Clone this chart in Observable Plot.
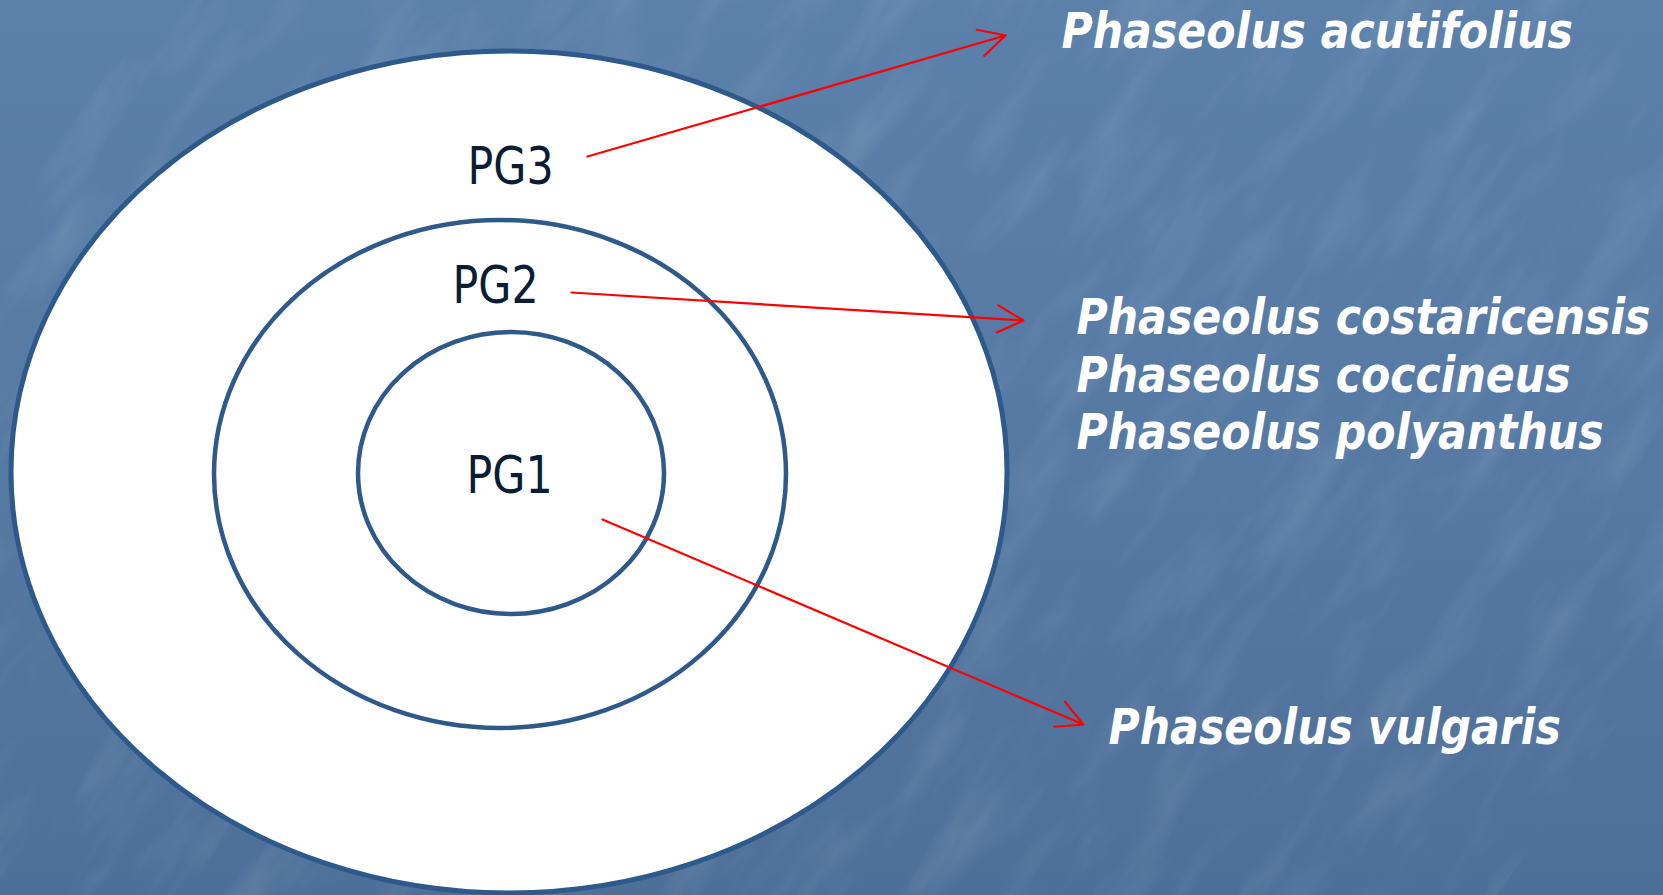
<!DOCTYPE html>
<html>
<head>
<meta charset="utf-8">
<script src="https://cdn.jsdelivr.net/npm/d3@7"></script>
<script src="https://cdn.jsdelivr.net/npm/@observablehq/plot@0.6"></script>
<style>
  html, body { margin: 0; padding: 0; }
  body {
    width: 1663px; height: 895px; overflow: hidden;
    background: linear-gradient(180deg, #5b80aa 0%, #5679a3 55%, #4d6f98 100%);
    position: relative;
  }
  #texture { position: absolute; left: 0; top: 0; width: 1663px; height: 895px; }
  #chart { position: absolute; left: 0; top: 0; }
  #chart svg { display: block; background: transparent; }
</style>
</head>
<body>
<svg id="texture" width="1663" height="895">
  <filter id="grain" x="0" y="0" width="100%" height="100%">
    <feTurbulence type="fractalNoise" baseFrequency="0.012 0.045" numOctaves="4" seed="11"/>
    <feColorMatrix type="matrix" values="0 0 0 0 1  0 0 0 0 1  0 0 0 0 1  0 0 0 1.3 -0.6"/>
  </filter>
  <rect width="1663" height="895" filter="url(#grain)" opacity="0.16" transform="rotate(-55 830 447) scale(1.8) translate(-370 -200)"/>
</svg>
<div id="chart"></div>
<script>
// Gene pools (rings), in the picture's 1663x895 coordinate space
const pools = ["PG3", "PG2", "PG1"];
const poolCx = [509, 500, 511];
const poolCy = [472, 474, 473];
const poolRx = [498, 286, 153];
const poolRy = [421, 254, 141];

// Ring labels
const labelX = [510, 495, 509];
const labelY = [147, 266, 456];

// Species per pool
const species = [
  "Phaseolus acutifolius",
  "Phaseolus costaricensis\nPhaseolus coccineus\nPhaseolus polyanthus",
  "Phaseolus vulgaris"
];
const speciesX = [1061, 1076, 1108];
const speciesY = [7, 293, 703];

// Arrows from labels to species
const arrowX1 = [587, 571, 602];
const arrowY1 = [156, 292, 519];
const arrowX2 = [1005, 1023, 1083];
const arrowY2 = [35, 320, 724];

const ringStroke = "#2d5a8b";

const ringMarks = pools.map((p, i) => {
  const d = [{x1: poolCx[i] - poolRx[i], x2: poolCx[i] + poolRx[i], y1: poolCy[i] - poolRy[i], y2: poolCy[i] + poolRy[i]}];
  return Plot.rect(d, {
    x1: "x1", x2: "x2", y1: "y1", y2: "y2",
    rx: poolRx[i], ry: poolRy[i],
    fill: "white", stroke: ringStroke, strokeWidth: i === 0 ? 5 : 4.5
  });
});

const labels = pools.map((p, i) => ({text: p, x: labelX[i], y: labelY[i]}));
const spec = species.map((s, i) => ({text: s, x: speciesX[i], y: speciesY[i]}));
const arrows = pools.map((p, i) => ({x1: arrowX1[i], y1: arrowY1[i], x2: arrowX2[i], y2: arrowY2[i]}));

const plot = Plot.plot({
  width: 1663,
  height: 895,
  margin: 0,
  x: {domain: [0, 1663], range: [0, 1663], axis: null},
  y: {domain: [0, 895], range: [0, 895], axis: null},
  style: {background: "transparent", overflow: "visible"},
  marks: [
    ...ringMarks,
    Plot.text(labels, {
      x: "x", y: "y", text: "text",
      fontSize: 51, fill: "#0b1c35", textAnchor: "middle", lineAnchor: "top",
      fontFamily: "DejaVu Sans", className: "pglabel"
    }),
    Plot.arrow(arrows, {
      x1: "x1", y1: "y1", x2: "x2", y2: "y2",
      stroke: "#ff0000", strokeWidth: 2.2, headLength: 20, headAngle: 55
    }),
    Plot.text(spec, {
      x: "x", y: "y", text: "text",
      fontSize: 50, fontWeight: "bold", fontStyle: "italic", fill: "white",
      textAnchor: "start", lineAnchor: "top", lineHeight: 1.15,
      fontFamily: "DejaVu Sans", className: "species"
    })
  ]
});

document.getElementById("chart").appendChild(plot);

// Narrow the lettering horizontally, like the condensed face of the original
function squeeze(sel, sx) {
  d3.select(plot).selectAll(sel + " text").each(function () {
    const t = d3.select(this);
    const tr = t.attr("transform");
    if (tr) {
      t.attr("transform", tr + ` scale(${sx},1)`);
    } else {
      const x = +t.attr("x") || 0, y = +t.attr("y") || 0;
      t.attr("x", null).attr("y", null).attr("transform", `translate(${x},${y}) scale(${sx},1)`);
    }
  });
}
squeeze(".pglabel", 0.84);
squeeze(".species", 0.853);
</script>
</body>
</html>
